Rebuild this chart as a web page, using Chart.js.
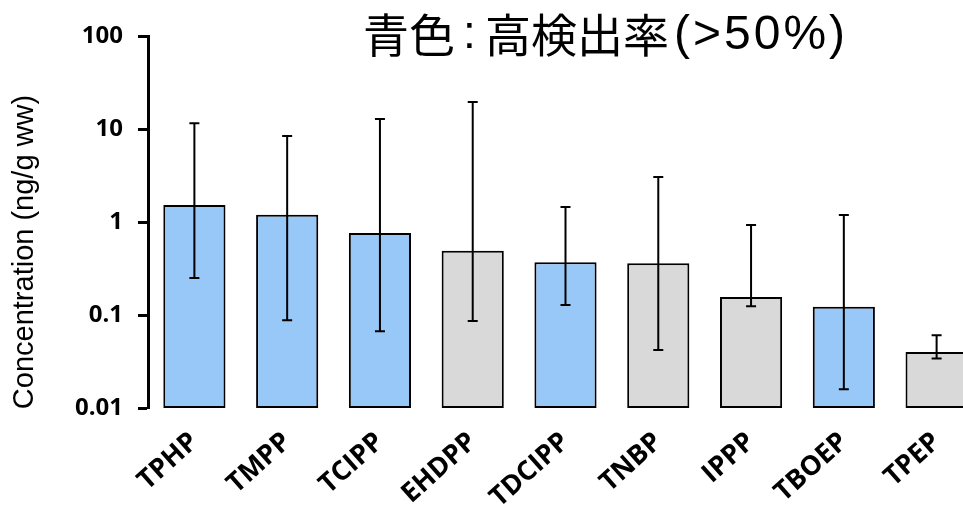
<!DOCTYPE html>
<html>
<head>
<meta charset="utf-8">
<script src="https://cdn.jsdelivr.net/npm/chart.js@4.4.0/dist/chart.umd.min.js"></script>
<style>
  html, body { margin: 0; padding: 0; background: #fff; overflow: hidden; }
  #wrap { width: 990px; height: 506px; }
</style>
</head>
<body>
<div id="wrap"><canvas id="chart"></canvas></div>
<script>
// compounds and geometric means (ng/g ww)
const compounds = ['TPHP', 'TMPP', 'TCIPP', 'EHDPP', 'TDCIPP', 'TNBP', 'IPPP', 'TBOEP', 'TPEP'];
const means = [1.52, 1.2, 0.76, 0.49, 0.37, 0.36, 0.156, 0.123, 0.040];
const errLow = [0.25, 0.088, 0.067, 0.086, 0.128, 0.042, 0.124, 0.0159, 0.034];
const errHigh = [11.5, 8.4, 12.8, 19.5, 1.45, 3.05, 0.93, 1.19, 0.0605];
// blue = detection rate > 50%
const highDetect = [true, true, true, false, true, false, false, true, false];
const yTicks = [0.01, 0.1, 1, 10, 100];
const yTickLabels = ['0.01', '0.1', '1', '10', '100'];

const colBlue = '#97C8F7';
const colGray = '#D9D9D9';

// error bars drawn through the y scale
const errorBars = {
  id: 'errorBars',
  afterDatasetsDraw(chart) {
    const ctx = chart.ctx;
    const y = chart.scales.y;
    const meta = chart.getDatasetMeta(0);
    ctx.save();
    ctx.strokeStyle = '#000';
    ctx.lineWidth = 2;
    meta.data.forEach((bar, i) => {
      const yl = y.getPixelForValue(errLow[i]);
      const yh = y.getPixelForValue(errHigh[i]);
      ctx.beginPath();
      ctx.moveTo(bar.x, yl);
      ctx.lineTo(bar.x, yh);
      ctx.moveTo(bar.x - 5, yl);
      ctx.lineTo(bar.x + 5, yl);
      ctx.moveTo(bar.x - 5, yh);
      ctx.lineTo(bar.x + 5, yh);
      ctx.stroke();
    });
    ctx.restore();
  }
};

// title and y axis title placed like the original
const texts = {
  id: 'texts',
  afterDraw(chart) {
    const ctx = chart.ctx;
    ctx.save();
    ctx.fillStyle = '#000';
    ctx.textAlign = 'left';
    ctx.textBaseline = 'middle';
    // title: CJK part, colon, CJK part, then the latin part
    const cjk = '46px "Noto Sans CJK JP"';
    let x = 363;
    ctx.font = cjk;
    ctx.fillText('青色', x, 35);
    x += ctx.measureText('青色').width;
    ctx.font = '46px "Liberation Sans"';
    ctx.fillText(':', x + 8, 35);
    x += 30;
    ctx.font = cjk;
    ctx.fillText('高検出率', x, 35);
    x += ctx.measureText('高検出率').width;
    ctx.font = '48px "Liberation Sans"';
    ctx.letterSpacing = '3px';
    ctx.fillText('(>50%)', x + 5, 36);
    ctx.letterSpacing = '0px';

    ctx.translate(25, 252);
    ctx.rotate(-Math.PI / 2);
    ctx.textAlign = 'center';
    ctx.font = '29px "Liberation Sans"';
    ctx.fillText('Concentration (ng/g ww)', 0, 0);
    ctx.restore();
  }
};

new Chart(document.getElementById('chart').getContext('2d'), {
  type: 'bar',
  data: {
    labels: compounds,
    datasets: [{
      data: means,
      backgroundColor: highDetect.map((h) => (h ? colBlue : colGray)),
      borderColor: '#000',
      borderWidth: 2,
      borderSkipped: false,
      categoryPercentage: 1,
      barPercentage: 0.67,
    }],
  },
  options: {
    responsive: true,
    maintainAspectRatio: false,
    animation: false,
    layout: { padding: { top: 36, right: 7, left: 0, bottom: 0 } },
    plugins: {
      legend: { display: false },
      tooltip: { enabled: false },
    },
    scales: {
      x: {
        grid: { display: false, drawTicks: false },
        border: { display: false },
        ticks: {
          autoSkip: false,
          minRotation: 42,
          maxRotation: 42,
          padding: 18,
          color: '#000',
          font: { family: 'Open Sans', weight: 'bold', size: 27 },
        },
        afterFit: (s) => { s.height = 98; },
      },
      y: {
        type: 'logarithmic',
        min: 0.01,
        max: 100,
        border: { display: true, color: '#000', width: 3 },
        grid: {
          drawOnChartArea: false,
          drawTicks: true,
          tickLength: 10,
          tickWidth: 3,
          tickColor: '#000',
        },
        afterBuildTicks: (s) => { s.ticks = yTicks.map((v) => ({ value: v })); },
        ticks: {
          padding: 15,
          color: '#000',
          font: { family: 'Open Sans', weight: 'bold', size: 24 },
          callback: (v, i) => yTickLabels[i],
        },
        afterFit: (s) => { s.width = 148; },
      },
    },
  },
  plugins: [errorBars, texts],
});
</script>
</body>
</html>
